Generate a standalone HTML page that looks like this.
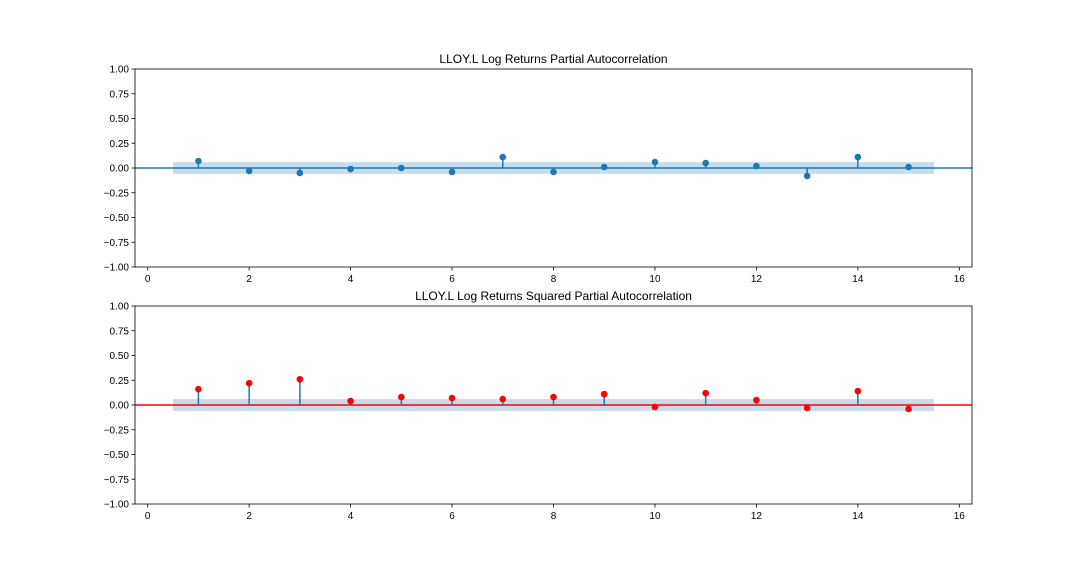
<!DOCTYPE html>
<html><head><meta charset="utf-8"><style>
body{margin:0;background:#fff;}
svg{display:block;font-family:"Liberation Sans","DejaVu Sans",sans-serif;}
</style></head><body>
<svg id="c" width="1080" height="576"></svg>
<script>
const lags=[1,2,3,4,5,6,7,8,9,10,11,12,13,14,15];
const pacfReturns=[0.07,-0.03,-0.05,-0.01,0.0,-0.04,0.11,-0.04,0.01,0.06,0.05,0.02,-0.08,0.11,0.01];
const pacfSquared=[0.16,0.22,0.26,0.04,0.08,0.07,0.06,0.08,0.11,-0.02,0.12,0.05,-0.03,0.14,-0.04];
const confBand=0.06;
const xTicks=[0,2,4,6,8,10,12,14,16];
const yTicks=[-1,-0.75,-0.5,-0.25,0,0.25,0.5,0.75,1];
const titles=["LLOY.L Log Returns Partial Autocorrelation","LLOY.L Log Returns Squared Partial Autocorrelation"];

const NS="http://www.w3.org/2000/svg";
const svg=document.getElementById('c');
function mk(tag,attrs,parent){const e=document.createElementNS(NS,tag);for(const k in attrs)e.setAttribute(k,attrs[k]);(parent||svg).appendChild(e);return e;}

function panel(top,vals,color,title,idx){
  const L=135,R=972,T=top,B=top+198;
  const xmin=-0.25,xmax=16.25;
  const X=v=>L+(v-xmin)/(xmax-xmin)*(R-L);
  const Y=v=>T+(1-v)/2*(B-T);
  const g=mk('g',{});
  
  
  const band=mk('rect',{x:X(0.5),y:Y(confBand),width:X(15.5)-X(0.5),height:Y(-confBand)-Y(confBand),fill:'#1f77b4','fill-opacity':0.25},g);
  
  
  const zl=mk('line',{x1:L,x2:R,y1:Y(0),y2:Y(0),stroke:color,'stroke-width':1.5},g);
  
  
  lags.forEach((l,i)=>{
    const s=mk('line',{x1:X(l),x2:X(l),y1:Y(0),y2:Y(vals[i]),stroke:'#1f77b4','stroke-width':1.5},g);
    
    
    const p=mk('circle',{cx:X(l),cy:Y(vals[i]),r:3.3,fill:color},g);
    
    
  });
  const fr=mk('rect',{x:L,y:T,width:R-L,height:B-T,fill:'none',stroke:'#000','stroke-width':0.8},g);
  
  
  xTicks.forEach(t=>{
    mk('line',{x1:X(t),x2:X(t),y1:B,y2:B+3.5,stroke:'#000','stroke-width':0.8},g);
    const tx=mk('text',{x:X(t),y:B+15,'font-size':10,'text-anchor':'middle'},g);
    tx.textContent=t;
    
    
  });
  yTicks.forEach(t=>{
    mk('line',{x1:L-3.5,x2:L,y1:Y(t),y2:Y(t),stroke:'#000','stroke-width':0.8},g);
    const tx=mk('text',{x:L-6,y:Y(t)+3.5,'font-size':10,'text-anchor':'end'},g);
    tx.textContent=(t<0?'\u2212':'')+Math.abs(t).toFixed(2);
    
    
  });
  const tt=mk('text',{x:(L+R)/2,y:T-6,'font-size':12,'text-anchor':'middle'},g);
  tt.textContent=title;
  
  
}
panel(69,pacfReturns,'#1f77b4',titles[0],1);
panel(306,pacfSquared,'red',titles[1],2);
</script>
</body></html>
